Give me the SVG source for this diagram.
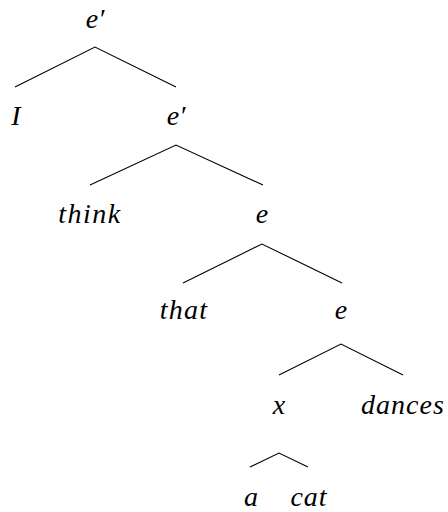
<svg xmlns="http://www.w3.org/2000/svg" width="448" height="512" viewBox="0 0 448 512">
<rect width="448" height="512" fill="#fff"/>
<g id="connectors" stroke="#000" stroke-width="1.1" fill="none">
<path d="M15 87L95 47L176 87"/>
<path d="M90 185L176 145L263 185"/>
<path d="M183 283L262 244L342 283"/>
<path d="M279 375L341 344L403 375"/>
<path d="M250 467L279 453L308 467"/>
</g>
<g id="n-root"><text x="95" y="28" font-family="Liberation Serif" font-style="italic" font-size="28" text-anchor="middle">e′</text></g>
<g id="n-I"><text x="16" y="125" font-family="Liberation Serif" font-style="italic" font-size="28" text-anchor="middle">I</text></g>
<g id="n-e1"><text x="176" y="125" font-family="Liberation Serif" font-style="italic" font-size="28" text-anchor="middle">e′</text></g>
<g id="n-think"><text x="90" y="223" font-family="Liberation Serif" font-style="italic" font-size="28" text-anchor="middle" letter-spacing="1.5">think</text></g>
<g id="n-e2"><text x="262" y="223" font-family="Liberation Serif" font-style="italic" font-size="28" text-anchor="middle">e</text></g>
<g id="n-that"><text x="184" y="319" font-family="Liberation Serif" font-style="italic" font-size="28" text-anchor="middle" letter-spacing="1.2">that</text></g>
<g id="n-e3"><text x="341" y="319" font-family="Liberation Serif" font-style="italic" font-size="28" text-anchor="middle">e</text></g>
<g id="n-x"><text x="279" y="414" font-family="Liberation Serif" font-style="italic" font-size="28" text-anchor="middle">x</text></g>
<g id="n-dances"><text x="403" y="414" font-family="Liberation Serif" font-style="italic" font-size="28" text-anchor="middle" letter-spacing="1">dances</text></g>
<g id="n-a"><text x="251" y="506" font-family="Liberation Serif" font-style="italic" font-size="28" text-anchor="middle">a</text></g>
<g id="n-cat"><text x="309" y="506" font-family="Liberation Serif" font-style="italic" font-size="28" text-anchor="middle" letter-spacing="1">cat</text></g>
</svg>
